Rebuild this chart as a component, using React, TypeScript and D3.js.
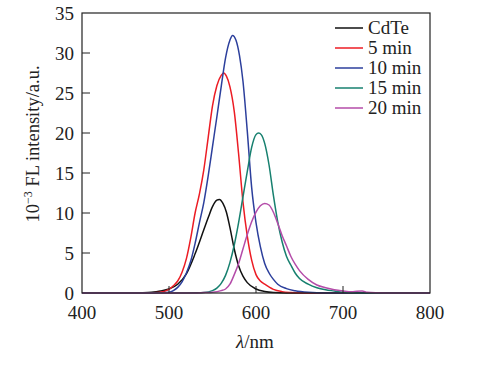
import React from "react";
import * as d3 from "d3";

// wavelength (nm), intensity (10^-3 a.u.)
const cdte: [number, number][] = [
  [400, 0], [460, 0], [470, 0.03], [480, 0.1], [490, 0.25], [500, 0.5], [510, 1.1], [520, 2.4],
  [530, 4.9], [540, 7.9], [545, 9.4], [550, 10.8], [555, 11.6], [558, 11.7], [562, 11.2],
  [566, 10.1], [570, 8.2], [575, 5.5], [580, 3.4], [585, 2.1], [590, 1.3], [600, 0.5],
  [610, 0.18], [620, 0.05], [635, 0], [800, 0]
];
const min5: [number, number][] = [
  [400, 0], [470, 0], [480, 0.03], [490, 0.1], [500, 0.45], [505, 0.9], [510, 1.5], [515, 2.6],
  [520, 4.3], [525, 6.9], [530, 10.0], [535, 12.4], [540, 15.4], [545, 19.4], [550, 23.4],
  [555, 25.9], [560, 27.2], [563, 27.5], [566, 27.1], [570, 25.8], [575, 22.7], [580, 17.4],
  [585, 11.4], [590, 7.1], [595, 4.1], [600, 2.3], [605, 1.5], [610, 1.1], [620, 0.45],
  [630, 0.17], [640, 0.06], [655, 0], [800, 0]
];
const min10: [number, number][] = [
  [400, 0], [480, 0], [490, 0.03], [500, 0.1], [505, 0.3], [510, 0.7], [515, 1.4], [520, 2.5],
  [525, 4.0], [530, 6.2], [535, 8.8], [540, 11.3], [545, 14.6], [550, 18.3], [555, 22.0],
  [560, 25.8], [565, 29.4], [570, 31.6], [573, 32.2], [577, 31.6], [581, 29.7], [585, 26.5],
  [590, 20.2], [595, 13.2], [600, 8.8], [605, 5.8], [610, 3.7], [615, 2.5], [620, 1.7],
  [625, 1.1], [635, 0.55], [645, 0.27], [660, 0.08], [680, 0], [800, 0]
];
const min15: [number, number][] = [
  [400, 0], [520, 0], [530, 0.02], [540, 0.06], [550, 0.3], [555, 0.6], [560, 1.2], [565, 2.2],
  [570, 3.8], [575, 6.0], [580, 8.8], [585, 12.0], [590, 15.2], [595, 18.2], [600, 19.8],
  [603, 20.0], [606, 19.8], [610, 18.7], [615, 16.0], [620, 12.2], [625, 8.9], [630, 6.4],
  [635, 4.6], [640, 3.5], [645, 2.5], [650, 1.8], [660, 1.1], [670, 0.65], [680, 0.4],
  [690, 0.25], [700, 0.1], [710, 0.03], [725, 0], [800, 0]
];
const min20: [number, number][] = [
  [400, 0], [530, 0], [540, 0.05], [550, 0.1], [560, 0.3], [565, 0.5], [570, 1.1], [575, 2.3],
  [580, 3.7], [585, 5.5], [590, 7.3], [595, 8.9], [600, 10.1], [605, 10.9], [610, 11.2],
  [615, 11.0], [620, 10.1], [625, 8.7], [630, 7.2], [635, 5.9], [640, 4.6], [645, 3.6],
  [650, 2.8], [660, 1.7], [670, 1.0], [680, 0.65], [690, 0.4], [700, 0.25], [710, 0.15],
  [716, 0.22], [722, 0.24], [728, 0.08], [740, 0.03], [760, 0], [800, 0]
];

const seriesNames = ["CdTe", "5 min", "10 min", "15 min", "20 min"];
const seriesData = [cdte, min5, min10, min15, min20];
const seriesColors = ["#111111", "#ec1c24", "#2c3f9c", "#17806f", "#b44ca9"];

const xTicks = [400, 500, 600, 700, 800];
const yTicks = [0, 5, 10, 15, 20, 25, 30, 35];

const W = 478;
const H = 366;
const font = "'Liberation Serif', 'Times New Roman', serif";

export default function App() {
  const x = d3.scaleLinear().domain([400, 800]).range([82, 430]);
  const y = d3.scaleLinear().domain([0, 35]).range([293, 13]);

  const line = d3
    .line<[number, number]>()
    .x(d => x(d[0]))
    .y(d => y(d[1]))
    .curve(d3.curveMonotoneX);

  const [x0, x1] = x.range();
  const [y0, y1] = y.range();

  return (
    <svg
      width={W}
      height={H}
      style={{ position: "absolute", left: 0, top: 0, background: "#fff" }}
      fontFamily={font}
    >
      {/* curves */}
      <g fill="none" strokeWidth={1.5}>
        {seriesData.map((s, i) => (
          <path key={seriesNames[i]} d={line(s) || ""} stroke={seriesColors[i]} />
        ))}
      </g>

      {/* frame */}
      <rect x={x0} y={y1} width={x1 - x0} height={y0 - y1} fill="none" stroke="#222" strokeWidth={1.2} />

      {/* y ticks */}
      {yTicks.map(t => (
        <g key={"y" + t}>
          {t > 0 && t < 35 && (
            <line x1={x0} x2={x0 + 8} y1={y(t)} y2={y(t)} stroke="#222" strokeWidth={1} />
          )}
          <text x={74} y={y(t)} dy="0.35em" textAnchor="end" fontSize={19} fill="#222">
            {t}
          </text>
        </g>
      ))}

      {/* x ticks */}
      {xTicks.map(t => (
        <g key={"x" + t}>
          {t > 400 && t < 800 && (
            <line x1={x(t)} x2={x(t)} y1={y0} y2={y0 - 7} stroke="#222" strokeWidth={1} />
          )}
          <text x={x(t)} y={319} textAnchor="middle" fontSize={19} fill="#222">
            {t}
          </text>
        </g>
      ))}

      {/* axis titles */}
      <text x={255} y={348} textAnchor="middle" fontSize={19} fill="#222">
        <tspan fontStyle="italic">λ</tspan>/nm
      </text>
      <text
        transform={`translate(39, 144) rotate(-90)`}
        textAnchor="middle"
        fontSize={18.5}
        fill="#222"
      >
        10<tspan fontSize={12} dy={-7}>−3</tspan>
        <tspan dy={7}> FL intensity/a.u.</tspan>
      </text>

      {/* legend */}
      {seriesNames.map((n, i) => (
        <g key={"l" + n} transform={`translate(0, ${28 + i * 20})`}>
          <line x1={335} x2={363} y1={0} y2={0} stroke={seriesColors[i]} strokeWidth={1.5} />
          <text x={368} y={6} fontSize={19} fill="#222">
            {n}
          </text>
        </g>
      ))}
    </svg>
  );
}
